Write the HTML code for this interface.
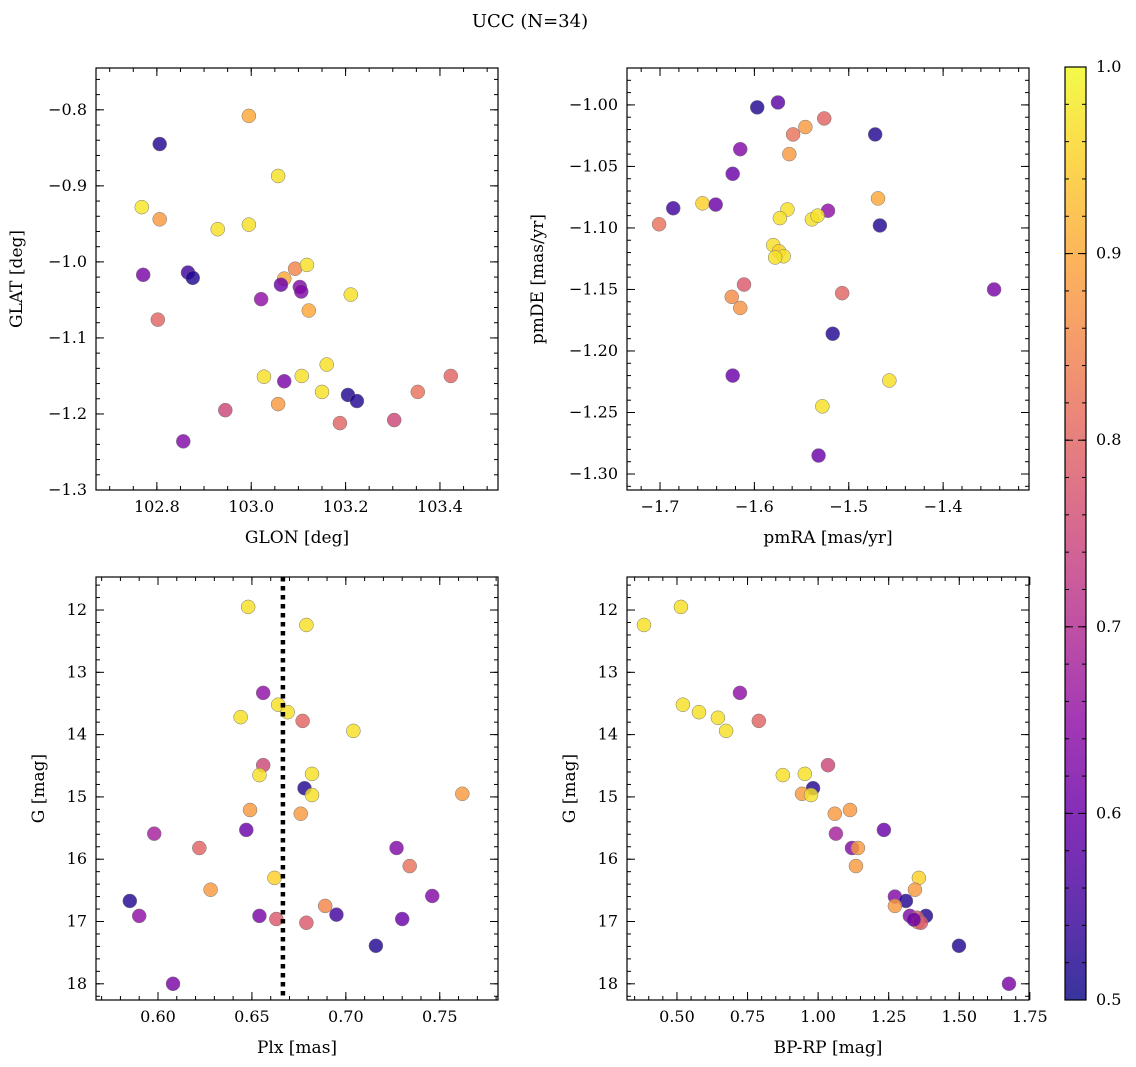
<!DOCTYPE html>
<html><head><meta charset="utf-8">
<style>
html,body{margin:0;padding:0;background:#fff;}
svg{display:block;font-family:"DejaVu Serif","Liberation Serif",serif;}
</style></head>
<body>
<svg id="fig" width="1136" height="1067" viewBox="0 0 1136 1067" xmlns="http://www.w3.org/2000/svg">
<text x="530" y="27" font-size="18" text-anchor="middle">UCC (N=34)</text>
</svg>
<script>
// ---- data ----
const tlGlon=[102.806,102.995,103.057,102.768,102.806,102.929,102.995,102.771,102.866,102.876,102.802,103.093,103.118,103.070,103.063,103.103,103.106,103.021,103.122,103.211,103.160,103.027,103.107,103.070,103.150,103.205,103.224,103.057,102.945,102.856,103.188,103.303,103.353,103.423];
const tlGlat=[-0.845,-0.808,-0.887,-0.928,-0.944,-0.957,-0.951,-1.017,-1.014,-1.021,-1.076,-1.009,-1.004,-1.022,-1.030,-1.033,-1.039,-1.049,-1.064,-1.043,-1.135,-1.151,-1.150,-1.157,-1.171,-1.175,-1.183,-1.187,-1.195,-1.236,-1.212,-1.208,-1.171,-1.150];
const tlProb=[0.52,0.9,0.97,0.98,0.88,0.97,0.97,0.62,0.55,0.52,0.8,0.85,0.97,0.9,0.6,0.63,0.63,0.65,0.9,0.97,0.97,0.97,0.97,0.62,0.97,0.52,0.52,0.88,0.75,0.63,0.8,0.75,0.82,0.8];
const trPmra=[-1.597,-1.575,-1.526,-1.546,-1.559,-1.472,-1.615,-1.563,-1.623,-1.686,-1.655,-1.641,-1.701,-1.565,-1.573,-1.522,-1.539,-1.533,-1.469,-1.580,-1.574,-1.569,-1.578,-1.467,-1.611,-1.346,-1.624,-1.507,-1.615,-1.517,-1.623,-1.457,-1.528,-1.532];
const trPmde=[-1.002,-0.998,-1.011,-1.018,-1.024,-1.024,-1.036,-1.040,-1.056,-1.084,-1.080,-1.081,-1.097,-1.085,-1.092,-1.086,-1.093,-1.090,-1.076,-1.114,-1.119,-1.123,-1.124,-1.098,-1.146,-1.150,-1.156,-1.153,-1.165,-1.186,-1.220,-1.224,-1.245,-1.285];
const trProb=[0.52,0.58,0.8,0.88,0.82,0.52,0.63,0.88,0.6,0.55,0.95,0.6,0.82,0.97,0.97,0.65,0.97,0.97,0.9,0.97,0.95,0.97,0.97,0.52,0.78,0.62,0.86,0.8,0.87,0.52,0.6,0.97,0.97,0.6];
const blPlx=[0.648,0.679,0.656,0.664,0.669,0.644,0.677,0.704,0.656,0.654,0.682,0.678,0.682,0.762,0.649,0.676,0.647,0.598,0.622,0.727,0.734,0.662,0.628,0.746,0.585,0.689,0.590,0.654,0.695,0.663,0.679,0.730,0.716,0.608];
const blG=[11.95,12.24,13.33,13.52,13.64,13.72,13.78,13.94,14.49,14.65,14.63,14.86,14.97,14.95,15.21,15.27,15.53,15.59,15.82,15.82,16.11,16.30,16.49,16.59,16.67,16.75,16.91,16.91,16.89,16.96,17.02,16.96,17.39,18.0];
const blProb=[0.97,0.97,0.65,0.97,0.97,0.97,0.8,0.97,0.75,0.97,0.97,0.52,0.97,0.88,0.88,0.88,0.6,0.68,0.8,0.63,0.82,0.95,0.88,0.63,0.52,0.85,0.65,0.62,0.55,0.78,0.78,0.6,0.52,0.62];
const brBprp=[0.383,0.514,0.521,0.578,0.645,0.674,0.723,0.790,1.035,0.875,0.953,0.982,0.943,0.975,1.113,1.059,1.233,1.063,1.120,1.141,1.134,1.357,1.343,1.272,1.311,1.272,1.325,1.382,1.350,1.353,1.364,1.339,1.499,1.676];
const brG=[12.24,11.95,13.52,13.64,13.73,13.94,13.33,13.78,14.49,14.65,14.63,14.86,14.95,14.97,15.21,15.27,15.53,15.59,15.82,15.82,16.11,16.30,16.49,16.60,16.67,16.75,16.91,16.91,16.94,17.01,17.02,16.97,17.39,18.0];
const brProb=[0.97,0.97,0.97,0.97,0.97,0.97,0.65,0.8,0.75,0.97,0.97,0.52,0.88,0.97,0.88,0.88,0.6,0.68,0.63,0.88,0.88,0.95,0.88,0.63,0.52,0.88,0.63,0.52,0.78,0.88,0.78,0.6,0.52,0.62];
const plxMean=0.6665;
const tlXTicks=[102.8,103.0,103.2,103.4];
const tlYTicks=[-0.8,-0.9,-1.0,-1.1,-1.2,-1.3];
const trXTicks=[-1.7,-1.6,-1.5,-1.4];
const trYTicks=[-1.00,-1.05,-1.10,-1.15,-1.20,-1.25,-1.30];
const blXTicks=[0.60,0.65,0.70,0.75];
const gTicks=[12,13,14,15,16,17,18];
const brXTicks=[0.50,0.75,1.00,1.25,1.50,1.75];
const cbTicks=[0.5,0.6,0.7,0.8,0.9,1.0];

// ---- helpers ----
const NS="http://www.w3.org/2000/svg";
const svg=document.getElementById('fig');
function mk(tag,attrs,parent){const e=document.createElementNS(NS,tag);for(const k in attrs)e.setAttribute(k,attrs[k]);(parent||svg).appendChild(e);return e;}
const stops=["#0d0887","#41049d","#6a00a8","#8f0da4","#b12a90","#cc4778","#e16462","#f2844b","#fca636","#fcce25","#f0f921"];
function hex(h){return [parseInt(h.substr(1,2),16),parseInt(h.substr(3,2),16),parseInt(h.substr(5,2),16)];}
function plasma(t){t=Math.max(0,Math.min(1,t));const f=t*10;const i=Math.min(9,Math.floor(f));const a=hex(stops[i]),b=hex(stops[i+1]);const u=f-i;return `rgb(${a.map((v,k)=>Math.round(v+(b[k]-v)*u)).join(',')})`;}
function pcol(p){return plasma((p-0.5)/0.5);}
function fmt(v,d){return (v<0?"\u2212":"")+Math.abs(v).toFixed(d);}

function panel(name,box,xd,yd,xt,yt,xdec,ydec,xminor,yminor,xlabel,ylabel,ylabX,xs,ys,ps,yInvert){
  const [L,T,R,B]=box;
  const g=mk('g',{});
  
  
  const sx=v=>L+(v-xd[0])/(xd[1]-xd[0])*(R-L);
  const sy=yInvert?(v=>T+(v-yd[0])/(yd[1]-yd[0])*(B-T)):(v=>B-(v-yd[0])/(yd[1]-yd[0])*(B-T));
  const pg=mk('g',{},g);
  
  
  for(let i=0;i<xs.length;i++){
    const c=mk('circle',{cx:sx(xs[i]),cy:sy(ys[i]),r:7,fill:pcol(ps[i]),'fill-opacity':0.82,stroke:'#777','stroke-width':0.5},pg);
    
    
  }
  const fr=mk('rect',{x:L,y:T,width:R-L,height:B-T,fill:'none',stroke:'#000','stroke-width':1.2},g);
  
  
  const lo=Math.min(xd[0],xd[1]),hi=Math.max(xd[0],xd[1]);
  for(let v=Math.ceil(lo/xminor-1e-6)*xminor;v<=hi+1e-9;v+=xminor){const x=sx(v);mk('line',{x1:x,x2:x,y1:B,y2:B-4,stroke:'#000'},g);mk('line',{x1:x,x2:x,y1:T,y2:T+4,stroke:'#000'},g);}
  const ylo=Math.min(yd[0],yd[1]),yhi=Math.max(yd[0],yd[1]);
  for(let v=Math.ceil(ylo/yminor-1e-6)*yminor;v<=yhi+1e-9;v+=yminor){const y=sy(v);mk('line',{x1:L,x2:L+4,y1:y,y2:y,stroke:'#000'},g);mk('line',{x1:R,x2:R-4,y1:y,y2:y,stroke:'#000'},g);}
  xt.forEach(v=>{const x=sx(v);mk('line',{x1:x,x2:x,y1:B,y2:B-8,stroke:'#000'},g);mk('line',{x1:x,x2:x,y1:T,y2:T+8,stroke:'#000'},g);
    const t=mk('text',{x:x,y:B+22,'font-size':16,'text-anchor':'middle'},g);t.textContent=fmt(v,xdec);
    
    });
  yt.forEach(v=>{const y=sy(v);mk('line',{x1:L,x2:L+8,y1:y,y2:y,stroke:'#000'},g);mk('line',{x1:R,x2:R-8,y1:y,y2:y,stroke:'#000'},g);
    const t=mk('text',{x:L-9,y:y+5,'font-size':16,'text-anchor':'end'},g);t.textContent=fmt(v,ydec);
    
    });
  const xl=mk('text',{x:(L+R)/2,y:B+53,'font-size':17,'text-anchor':'middle'},g);xl.textContent=xlabel;
  
  
  const cy=(T+B)/2;
  const yl=mk('text',{x:ylabX,y:cy,'font-size':17,'text-anchor':'middle',transform:`rotate(-90 ${ylabX} ${cy})`},g);yl.textContent=ylabel;
  
  
  return {sx,sy,g};
}

panel('glon-glat-panel',[96,68,498,490],[102.671,103.523],[-1.3,-0.745],tlXTicks,tlYTicks,1,1,0.05,0.02,'GLON [deg]','GLAT [deg]',22,tlGlon,tlGlat,tlProb,false);
panel('pm-panel',[627,68,1029,490],[-1.735,-1.309],[-1.313,-0.970],trXTicks,trYTicks,1,2,0.02,0.01,'pmRA [mas/yr]','pmDE [mas/yr]',543,trPmra,trPmde,trProb,false);
const bl=panel('plx-g-panel',[96,577,498,1000],[0.567,0.781],[11.47,18.26],blXTicks,gTicks,2,0,0.01,0.2,'Plx [mas]','G [mag]',44,blPlx,blG,blProb,true);
const ml=mk('line',{x1:bl.sx(plxMean),x2:bl.sx(plxMean),y1:577,y2:1000,stroke:'#000','stroke-width':4.5,'stroke-dasharray':'4.5 4.5'},bl.g);


panel('cmd-panel',[627,577,1029,1000],[0.323,1.747],[11.47,18.26],brXTicks,gTicks,2,0,0.05,0.2,'BP-RP [mag]','G [mag]',575,brBprp,brG,brProb,true);

const cb=mk('g',{});


const defs=mk('defs',{},cb);
const lg=mk('linearGradient',{id:'pl',x1:0,y1:1,x2:0,y2:0},defs);
for(let i=0;i<=20;i++){mk('stop',{offset:i/20,'stop-color':plasma(i/20),'stop-opacity':0.82},lg);}
const CL=1065,CR=1086,CT=67,CB=1000;
mk('rect',{x:CL,y:CT,width:CR-CL,height:CB-CT,fill:'url(#pl)',stroke:'#000','stroke-width':1.2},cb);
const cy=v=>CB-(v-0.5)/0.5*(CB-CT);
for(let v=0.5;v<=1.0001;v+=0.02){const y=cy(v);mk('line',{x1:CR,x2:CR-4,y1:y,y2:y,stroke:'#000'},cb);mk('line',{x1:CL,x2:CL+4,y1:y,y2:y,stroke:'#000'},cb);}
cbTicks.forEach(v=>{const y=cy(v);mk('line',{x1:CR,x2:CR-8,y1:y,y2:y,stroke:'#000'},cb);mk('line',{x1:CL,x2:CL+8,y1:y,y2:y,stroke:'#000'},cb);
  const t=mk('text',{x:CR+10,y:y+5,'font-size':16},cb);t.textContent=v.toFixed(1);
  
  });
</script>
</body></html>
